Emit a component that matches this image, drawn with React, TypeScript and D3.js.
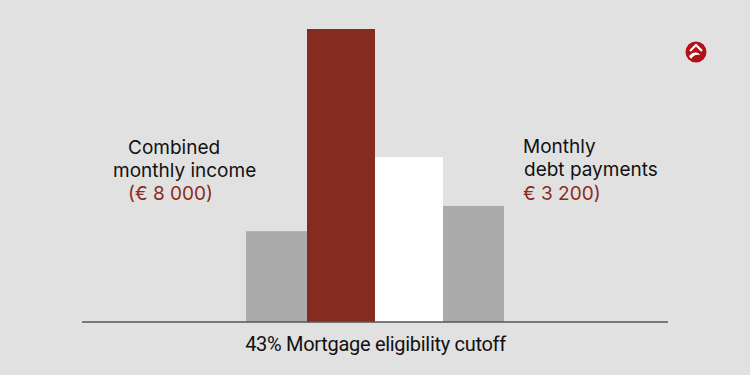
import { useEffect, useRef } from "react";
import * as d3 from "d3";

// bar values (relative heights)
const categories = ["a", "b", "c", "d"];
const values = [3100, 10000, 5630, 3960];
const barWeights = [61, 68, 68, 61];
const barColors = ["#ababab", "#862b1f", "#ffffff", "#ababab"];

const leftLabel = ["Combined", "monthly income"];
const leftValue = "(€ 8 000)";
const rightLabel = ["Monthly", "debt payments"];
const rightValue = "€ 3 200)";
const caption = "43% Mortgage eligibility cutoff";

const W = 750;
const H = 375;

const App = () => {
  const svgRef = useRef<SVGSVGElement | null>(null);

  useEffect(() => {
    const svg = d3.select(svgRef.current).attr("width", W).attr("height", H);
    svg.selectAll("*").remove();

    svg.append("rect").attr("width", W).attr("height", H).attr("fill", "#e2e1e1");

    // bars sit side by side, a bit narrower at the outside
    const edges = [0, ...d3.cumsum(barWeights)];
    const x = d3.scaleLinear().domain([0, d3.sum(barWeights)]).range([246, 504]);
    const y = d3.scaleLinear().domain([0, 10000]).range([322, 29]);

    svg.selectAll("rect.bar")
      .data(values)
      .join("rect")
      .attr("class", "bar")
      .attr("x", (_, i) => x(edges[i]))
      .attr("y", v => y(v))
      .attr("width", (_, i) => x(edges[i + 1]) - x(edges[i]))
      .attr("height", v => y(0) - y(v))
      .attr("fill", (_, i) => barColors[i])
      .attr("data-cat", (_, i) => categories[i]);

    // baseline
    svg.append("line")
      .attr("x1", 82).attr("x2", 668)
      .attr("y1", y(0)).attr("y2", y(0))
      .attr("stroke", "#555").attr("stroke-width", 1.5);

    const font = "Inter, 'Noto Sans', sans-serif";

    // left labels
    const left = svg.append("g").attr("font-family", font).attr("font-size", 19);
    left.append("text").attr("x", 128).attr("y", 154).attr("fill", "#111").text(leftLabel[0]);
    left.append("text").attr("x", 113).attr("y", 177).attr("fill", "#111").text(leftLabel[1]);
    left.append("text").attr("x", 128).attr("y", 200).attr("fill", "#8a2b20").text(leftValue);

    // right labels
    const right = svg.append("g").attr("font-family", font).attr("font-size", 19);
    right.append("text").attr("x", 523).attr("y", 153).attr("fill", "#111").text(rightLabel[0]);
    right.append("text").attr("x", 524).attr("y", 176).attr("fill", "#111").text(rightLabel[1]);
    right.append("text").attr("x", 523).attr("y", 200).attr("fill", "#8a2b20").text(rightValue);

    // caption
    svg.append("text")
      .attr("x", 375.5).attr("y", 351)
      .attr("text-anchor", "middle")
      .attr("font-family", "Roboto, sans-serif")
      .attr("font-size", 20)
      .attr("letter-spacing", -0.3)
      .attr("fill", "#111")
      .text(caption);

    // logo
    const logo = svg.append("g").attr("transform", "translate(696,52)");
    logo.append("circle").attr("r", 10.5).attr("fill", "#b0121a");
    logo.append("path")
      .attr("d", "M-6,-1 L0,-7 L6,-1")
      .attr("fill", "none").attr("stroke", "#fff").attr("stroke-width", 2.2);
    logo.append("path")
      .attr("d", "M-7,4 C-3,-1 3,0 4,3 C1,2 -3,3 -5,7")
      .attr("fill", "#fff");
  }, []);

  return <svg ref={svgRef} style={{ display: "block", position: "absolute", left: 0, top: 0 }} />;
};

export default App;
